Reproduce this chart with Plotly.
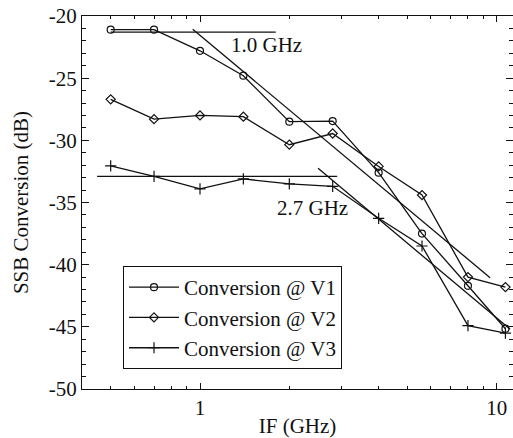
import plotly.graph_objects as go
import math

# ---- data ----
freq = [0.5, 0.7, 1.0, 1.4, 2.0, 2.8, 4.0, 5.6, 8.0, 10.7]
conv_v1 = [-21.1, -21.1, -22.8, -24.8, -28.5, -28.45, -32.6, -37.5, -41.7, -45.15]
conv_v2 = [-26.7, -28.3, -28.0, -28.1, -30.35, -29.45, -32.1, -34.4, -41.0, -41.8]
conv_v3 = [-32.05, -32.9, -33.9, -33.1, -33.5, -33.7, -36.27, -38.5, -44.9, -45.5]

# asymptote lines
asym1_h_x = [0.5, 1.8]
asym1_h_y = [-21.3, -21.3]
asym1_d_x = [0.945, 9.5]
asym1_d_y = [-21.07, -41.05]
asym2_h_x = [0.45, 2.9]
asym2_h_y = [-32.9, -32.9]
asym2_d_x = [2.5, 11.1]
asym2_d_y = [-32.25, -45.2]

series_names = ["Conversion @ V1", "Conversion @ V2", "Conversion @ V3"]
x_tick_vals = [1, 10]
x_tick_text = ["1", "10"]
x_minor_vals = [0.5, 0.6, 0.7, 0.8, 0.9, 2, 3, 4, 5, 6, 7, 8, 9]
y_tick_vals = [-50, -45, -40, -35, -30, -25, -20]
y_tick_text = ["-50", "-45", "-40", "-35", "-30", "-25", "-20"]
y_minor_vals = [v for v in range(-49, -20) if v % 5 != 0]

FONT = "Liberation Serif"
BLACK = "#111111"
LW = 1.3

fig = go.Figure()

symbols = ["circle-open", "diamond-open", "cross-thin-open"]
sizes = [7, 7, 8]
for ys, sym, sz, name in zip([conv_v1, conv_v2, conv_v3], symbols, sizes, series_names):
    fig.add_trace(go.Scatter(
        x=freq, y=ys, mode="lines+markers", name=name,
        line=dict(color=BLACK, width=LW),
        marker=dict(symbol=sym, size=sz, color=BLACK, line=dict(width=1.2, color=BLACK)),
    ))

# asymptotes drawn on the overlay axes (same ranges) that carry the minor ticks
for ax, ay in [(asym1_h_x, asym1_h_y), (asym1_d_x, asym1_d_y),
               (asym2_h_x, asym2_h_y), (asym2_d_x, asym2_d_y)]:
    fig.add_trace(go.Scatter(x=ax, y=ay, mode="lines", showlegend=False,
                             xaxis="x2", yaxis="y2",
                             line=dict(color=BLACK, width=LW)))

L, R, T, B = 82, 0, 16, 49
W, H = 513, 438
pw, ph = W - L - R, H - T - B

def px_x(p):
    return (p - L) / pw

def px_y(p):
    return (H - B - p) / ph

fig.add_annotation(x=math.log10(1.675), y=-22.35, text="1.0 GHz", showarrow=False,
                   font=dict(family=FONT, size=21, color=BLACK))
fig.add_annotation(x=math.log10(2.395), y=-35.45, text="2.7 GHz", showarrow=False,
                   font=dict(family=FONT, size=21, color=BLACK))

XR = [-0.3977, 1.0549]
YR = [-50, -20]

fig.update_layout(
    template="none",
    width=W, height=H,
    margin=dict(l=L, r=R, t=T, b=B),
    paper_bgcolor="white", plot_bgcolor="white",
    font=dict(family=FONT, size=21, color=BLACK),
    legend=dict(font=dict(family=FONT, size=21, color=BLACK), bgcolor="white",
                bordercolor=BLACK, borderwidth=1, xanchor="left", yanchor="top",
                itemwidth=50, x=px_x(123), y=px_y(266)),
    xaxis=dict(
        type="log", range=XR,
        tickvals=x_tick_vals, ticktext=x_tick_text,
        ticks="inside", ticklen=6, tickwidth=1, tickcolor=BLACK,
        showline=True, linecolor=BLACK, linewidth=1.2, mirror="ticks",
        showgrid=False, zeroline=False,
        title=dict(text="IF (GHz)", font=dict(family=FONT, size=21, color=BLACK), standoff=6),
        tickfont=dict(family=FONT, size=21, color=BLACK),
    ),
    yaxis=dict(
        range=YR, tickvals=y_tick_vals, ticktext=y_tick_text,
        ticks="inside", ticklen=7, tickwidth=1, tickcolor=BLACK,
        showline=True, linecolor=BLACK, linewidth=1.2, mirror="ticks",
        showgrid=False, zeroline=False,
        title=dict(text="SSB Conversion (dB)", font=dict(family=FONT, size=21, color=BLACK), standoff=14),
        tickfont=dict(family=FONT, size=21, color=BLACK),
    ),
    xaxis2=dict(
        type="log", range=XR, overlaying="x", anchor="y2", side="bottom",
        tickvals=x_minor_vals, showticklabels=False,
        ticks="inside", ticklen=3, tickwidth=1, tickcolor=BLACK,
        showline=False, mirror="ticks", showgrid=False, zeroline=False,
    ),
    yaxis2=dict(
        range=YR, overlaying="y", anchor="x2", side="left",
        tickvals=y_minor_vals, showticklabels=False,
        ticks="inside", ticklen=4, tickwidth=1, tickcolor=BLACK,
        showline=False, mirror="ticks", showgrid=False, zeroline=False,
    ),
)

fig.write_html("out.html")
